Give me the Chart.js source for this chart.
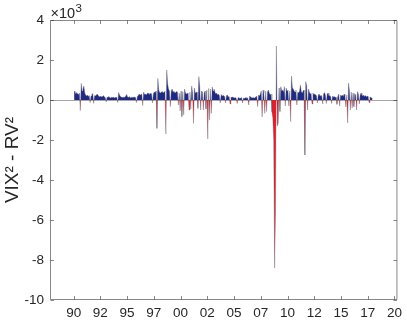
<!DOCTYPE html>
<html><head><meta charset="utf-8">
<script src="https://cdn.jsdelivr.net/npm/chart.js@4.4.1/dist/chart.umd.min.js"></script>
<style>html,body{margin:0;padding:0;background:#fff;}#wrap{width:407px;height:321px;}</style>
</head><body><div id="wrap"><canvas id="c" width="407" height="321"></canvas></div>
<script>
// VIX^2 - RV^2, one value per month, Jan 1990 .. Dec 2017
const startYear = 1990;
const v1990s = [
  450, 400, 300, 380, 300, 280, 350, -530, 830, 450, 550, 700,
  350, 250, 200, 250, 180, 220, -130, 200, 280, 330, -170, 220,
  200, 250, 300, 220, 180, 150, 200, 150, 180, 220, 150, 120,
  -100, 150, 120, 180, 130, 100, 140, 120, 150, 100, 120, 150,
  120, -130, 380, 250, 180, 150, 120, 140, 150, 130, 200, 280,
  150, 120, 180, 100, 140, 120, 160, 120, 150, 130, -130, 180,
  220, 300, 250, 280, 300, -280, 400, 280, 300, 250, 320, 350,
  300, 280, 350, 300, -150, 320, 400, 380, 450, -1420, 1080, 500,
  380, 350, 400, 420, 350, 400, 450, -1700, 1500, 800, 550, 450,
  -330, 450, 550, 400, 450, 350, 380, 420, 400, -250, 350, -550
];
const v2000s = [
  450, -830, 400, -750, 550, 350, 300, 320, 350, -500, 400, -450,
  700, 350, -1170, 600, 350, 380, 400, -420, 1170, 650, -500, 450,
  400, -500, 350, 450, -450, 500, -1950, 580, -1000, 550, -670, 650,
  450, 550, 400, 300, 350, 250, 300, 220, -150, 280, 200, 250,
  200, 180, -150, 220, 250, 150, 180, -200, 150, 120, 150, 120,
  100, 120, 80, -180, 120, 100, 80, 100, 120, -150, 100, 80,
  100, 120, 80, 100, -250, 200, 150, 120, 100, 120, 100, 120,
  150, 200, -330, 250, 200, 300, 450, -850, 500, 350, -670, 450,
  -580, 400, 500, 350, 250, 300, -600, -900, -2000, -8400, -5600, 2700,
  -1300, -1170, 600, -580, 670, 450, 500, 400, 670, -300, 600, 450
];
const v2010s = [
  500, -300, 450, -1080, 1200, 600, 550, 450, 400, 500, -250, 400,
  350, 450, 750, 400, 350, 450, 500, -2750, 920, 700, -500, 550,
  400, 300, 330, -200, 350, 280, 300, 250, 220, -150, 250, 300,
  200, 250, 180, -200, 300, 370, 250, -180, 300, 350, 200, 220,
  150, -180, 200, 150, 180, 120, 150, -220, 200, 300, -300, 250,
  200, 250, 180, 300, 220, -350, 250, -1150, 850, 450, -500, 400,
  -400, 350, -330, 300, 250, -500, 420, 300, -200, 250, 350, 250,
  200, 250, 180, 220, 150, 200, 180, -130, 150, 120, 100, 60
];
const xTickValues = [1990, 1992.5, 1995, 1997.5, 2000, 2002.5, 2005, 2007.5, 2010, 2012.5, 2015, 2017.5, 2020];
const xTickLabels = ['90', '92', '95', '97', '00', '02', '05', '07', '10', '12', '15', '17', '20'];
const yTickValues = [-10, -8, -6, -4, -2, 0, 2, 4]; // in units of 10^3
const yTitle = 'VIX\u00B2 - RV\u00B2';
const exponentBase = '\u00D710';
const exponentPower = '3';

const monthly = v1990s.concat(v2000s, v2010s);
const points = monthly.map((v, i) => ({ x: startYear + (i + 0.5) / 12, y: v }));

const FONT = '"Liberation Sans", Arial, Helvetica, sans-serif';
const TXT = '#262626';

const framePlugin = {
  id: 'frame',
  beforeDatasetsDraw(chart) {
    const { ctx, chartArea: a, scales: { y } } = chart;
    const y0 = Math.round(y.getPixelForValue(0)) + 0.5;
    ctx.save();
    ctx.strokeStyle = '#a6a6a6';
    ctx.lineWidth = 1;
    ctx.beginPath(); ctx.moveTo(a.left, y0); ctx.lineTo(a.right, y0); ctx.stroke();
    ctx.restore();
  },
  afterDraw(chart) {
    const { ctx, chartArea: a, scales: { x, y } } = chart;
    const L = a.left + 0.5, R = a.right - 0.5, T = a.top + 0.5, B = a.bottom - 0.5;
    const tl = 3.5;
    ctx.save();
    ctx.strokeStyle = 'rgba(38,38,38,0.55)';
    ctx.lineWidth = 1;
    ctx.beginPath();
    ctx.moveTo(L, T); ctx.lineTo(R, T); ctx.lineTo(R, B); ctx.lineTo(L, B); ctx.closePath();
    xTickValues.forEach(v => {
      const px = Math.round(x.getPixelForValue(v)) + 0.5;
      ctx.moveTo(px, B); ctx.lineTo(px, B - tl);
      ctx.moveTo(px, T); ctx.lineTo(px, T + tl);
    });
    yTickValues.forEach(v => {
      const py = Math.round(y.getPixelForValue(v * 1000)) + 0.5;
      ctx.moveTo(L, py); ctx.lineTo(L + tl, py);
      ctx.moveTo(R, py); ctx.lineTo(R - tl, py);
    });
    ctx.stroke();
    // exponent label
    ctx.fillStyle = TXT;
    ctx.textBaseline = 'alphabetic';
    ctx.textAlign = 'left';
    ctx.font = '14.5px ' + FONT;
    ctx.fillText(exponentBase, a.left + 0.5, a.top - 2.5);
    const w = ctx.measureText(exponentBase).width;
    ctx.font = '11.5px ' + FONT;
    ctx.fillText(exponentPower, a.left + 0.5 + w + 0.5, a.top - 8);
    ctx.restore();
  }
};

new Chart(document.getElementById('c'), {
  type: 'line',
  data: {
    datasets: [{
      data: points,
      borderColor: 'rgba(95,88,108,0.5)',
      borderWidth: 0.7,
      pointRadius: 0,
      tension: 0,
      fill: { target: 'origin', above: '#1f2a85', below: '#e41d26' }
    }]
  },
  options: {
    responsive: false,
    animation: false,
    devicePixelRatio: 1,
    layout: { padding: { left: 0, top: 20, right: 4, bottom: 0 } },
    plugins: { legend: { display: false }, tooltip: { enabled: false } },
    scales: {
      x: {
        type: 'linear',
        min: 1987.79,
        max: 2020.28,
        afterBuildTicks: s => { s.ticks = xTickValues.map(v => ({ value: v })); },
        afterFit: s => { s.height = 21; },
        grid: { display: false, drawTicks: false },
        border: { display: false },
        ticks: {
          autoSkip: false, maxRotation: 0, padding: 5, color: TXT,
          font: { family: FONT, size: 13.5 },
          callback: (v, i) => xTickLabels[i]
        }
      },
      y: {
        min: -10000,
        max: 4000,
        afterBuildTicks: s => { s.ticks = yTickValues.map(v => ({ value: v * 1000 })); },
        afterFit: s => { s.width = 50; },
        grid: { display: false, drawTicks: false },
        border: { display: false },
        ticks: {
          padding: 6, color: TXT,
          font: { family: FONT, size: 13.5 },
          callback: v => String(v / 1000)
        },
        title: {
          display: true, text: yTitle, color: TXT,
          font: { family: FONT, size: 19 },
          padding: { top: 1, bottom: 0 }
        }
      }
    }
  },
  plugins: [framePlugin]
});
</script>
</body></html>
